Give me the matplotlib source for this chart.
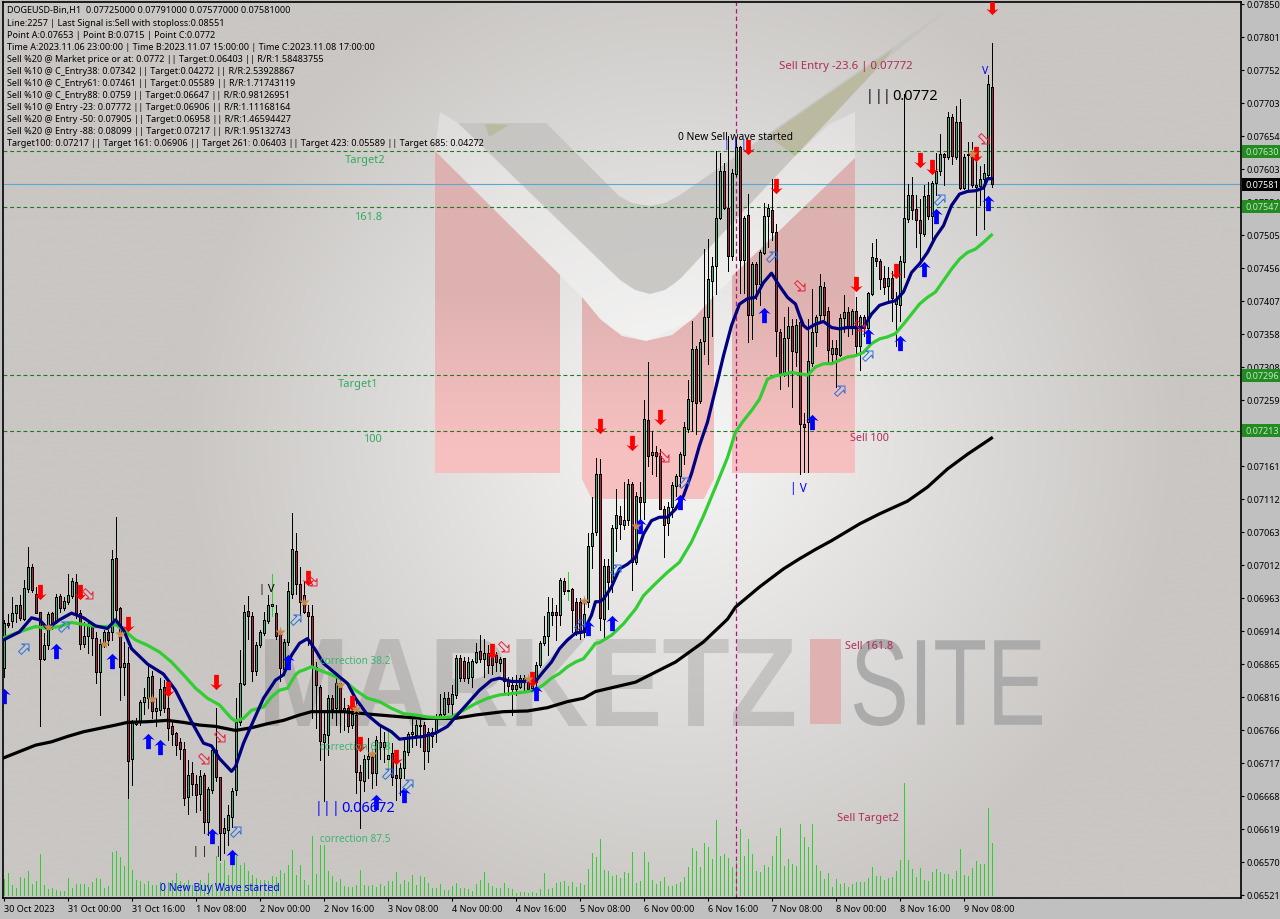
import numpy as np
import matplotlib
matplotlib.use("Agg")
import matplotlib.pyplot as plt
from matplotlib.patches import Polygon, Rectangle, PathPatch
from matplotlib.path import Path
from matplotlib.textpath import TextPath
from matplotlib.font_manager import FontProperties
from matplotlib.transforms import Affine2D

plt.rcParams['font.family'] = ['Noto Sans', 'DejaVu Sans']

# candles, prices in points (1 point = 0.00001), one bar per hour
bull = ("GRGGRGGRRR" "GGRGRGGGRR" "GGRRGGRGRR" "GRGGGGGRGG" "RRRRRRGRRG"
        "RGGRRGGGGG" "GRRGGGGGRR" "GGGRRRRRRR" "GGRGRGRGRR" "GGRGRGGRRG"
        "GGGGGRGGGG" "GRGGRRGGGR" "GRRRGRRRGG" "GRGGGGGRRG" "RGRRRGGGGR"
        "GRGGRGGRGR" "GRGRRRGGGG" "GGGRGGGGGG" "RRGGRGRGRG" "GGRRRGGRGR"
        "RGGGGRRGRG" "GRGRGRGGRR" "RGRGGGGRRR" "GRGGGRGRGR" "GGRGGGGR")
body_hi = [6926,6926,6941,6953,6953,6978,7010,7010,6970,6942,
           6894,6939,6941,6965,6967,6959,6968,6989,6988,6941,
           6907,6923,6921,6904,6895,6913,6913,7021,7023,6948,
           6866,6866,6779,6778,6809,6816,6846,6847,6799,6828,
           6831,6800,6772,6762,6748,6739,6700,6702,6686,6698,
           6699,6678,6737,6737,6696,6620,6640,6675,6779,6836,
           6943,6944,6936,6894,6913,6930,6953,6954,6941,6911,
           6898,6974,7037,7033,6985,6968,6943,6936,6861,6831,
           6760,6814,6814,6836,6836,6799,6799,6790,6789,6704,
           6724,6728,6727,6752,6749,6749,6729,6732,6699,6710,
           6736,6761,6764,6774,6774,6774,6764,6763,6786,6791,
           6814,6814,6821,6874,6874,6869,6868,6869,6883,6884,
           6882,6882,6878,6878,6873,6874,6841,6834,6834,6844,
           6844,6841,6838,6863,6897,6907,6942,6942,6942,6990,
           6989,6975,6977,6958,6958,6940,7041,7060,7149,7149,
           7012,7012,7068,7088,7086,7080,7134,7134,7116,7114,
           7231,7229,7181,7182,7175,7097,7100,7132,7145,7178,
           7218,7260,7335,7335,7345,7382,7439,7458,7530,7601,
           7601,7545,7598,7636,7636,7531,7535,7462,7462,7479,
           7533,7545,7542,7510,7361,7352,7369,7369,7371,7375,
           7223,7317,7361,7382,7429,7427,7392,7336,7336,7381,
           7390,7390,7391,7391,7382,7382,7418,7472,7470,7466,
           7441,7441,7441,7408,7466,7530,7564,7564,7544,7527,
           7563,7565,7582,7601,7626,7626,7681,7681,7673,7673,
           7622,7626,7626,7579,7588,7598,7730,7725]
body_lo = [6859,6924,6929,6941,6933,6932,6977,6975,6941,6872,
           6873,6894,6922,6928,6949,6949,6958,6967,6941,6895,
           6895,6907,6904,6853,6853,6896,6901,6913,6945,6860,
           6861,6720,6723,6776,6778,6809,6815,6795,6795,6796,
           6799,6770,6761,6744,6738,6665,6666,6686,6670,6671,
           6630,6630,6677,6696,6613,6613,6617,6637,6677,6779,
           6835,6936,6854,6855,6893,6911,6929,6952,6907,6859,
           6858,6898,6970,6985,6958,6943,6936,6861,6834,6750,
           6749,6759,6798,6800,6796,6796,6773,6774,6704,6692,
           6690,6723,6702,6702,6742,6742,6724,6697,6695,6695,
           6710,6734,6760,6759,6773,6736,6736,6757,6764,6788,
           6791,6806,6806,6819,6844,6844,6844,6845,6868,6873,
           6873,6863,6863,6868,6867,6840,6833,6828,6828,6831,
           6841,6828,6829,6838,6863,6897,6907,6938,6938,6938,
           6974,6974,6945,6913,6911,6913,6958,7041,7062,6933,
           6932,6987,6987,7068,7074,7073,7080,7017,7017,7106,
           7106,7175,7177,7175,7097,7073,7075,7100,7131,7145,
           7177,7216,7258,7255,7258,7347,7382,7437,7459,7531,
           7545,7473,7473,7596,7467,7467,7386,7386,7432,7432,
           7478,7533,7510,7362,7299,7299,7351,7332,7331,7223,
           7218,7226,7314,7361,7385,7385,7333,7328,7328,7326,
           7381,7367,7367,7340,7339,7367,7367,7417,7466,7439,
           7427,7429,7411,7402,7401,7464,7529,7543,7527,7508,
           7507,7533,7534,7582,7601,7621,7621,7623,7622,7575,
           7575,7624,7579,7577,7578,7588,7594,7581]
wick_hi = [6931,6940,6965,6953,6968,6990,7040,7014,6980,6943,
           6911,6943,6943,6970,6970,6965,7000,6993,7000,6945,
           6928,6926,6923,6913,6903,6916,6916,7035,7085,6950,
           6898,6891,6781,6784,6811,6829,6866,6854,6814,6844,
           6841,6834,6779,6764,6754,6749,6722,6719,6699,6707,
           6702,6682,6739,6799,6697,6635,6655,6680,6814,6886,
           6953,6967,6943,6898,6916,6943,6968,7000,6953,6916,
           6903,6988,7090,7060,7010,6988,6953,6953,6868,6834,
           6794,6819,6819,6844,6844,6814,6804,6794,6814,6714,
           6729,6754,6739,6757,6774,6764,6769,6747,6719,6717,
           6754,6764,6784,6781,6784,6779,6769,6769,6791,6821,
           6824,6824,6834,6878,6878,6876,6876,6873,6896,6908,
           6903,6893,6893,6883,6876,6874,6846,6846,6849,6849,
           6849,6846,6846,6868,6899,6936,6965,6963,6953,6993,
           6993,7003,6978,6963,6963,6960,7060,7114,7173,7171,
           7022,7022,7072,7126,7101,7136,7141,7136,7121,7136,
           7259,7315,7213,7191,7186,7101,7106,7136,7149,7181,
           7226,7288,7377,7340,7350,7484,7499,7472,7631,7628,
           7613,7653,7603,7648,7638,7534,7566,7464,7464,7482,
           7553,7551,7588,7521,7365,7382,7397,7380,7380,7377,
           7240,7380,7425,7385,7447,7435,7397,7348,7348,7387,
           7415,7397,7395,7412,7385,7385,7420,7493,7499,7469,
           7459,7457,7452,7420,7474,7715,7581,7591,7564,7559,
           7579,7584,7586,7628,7656,7628,7688,7686,7698,7708,
           7626,7643,7643,7623,7608,7611,7743,7791]
wick_lo = [6846,6920,6921,6928,6931,6931,6973,6973,6941,6772,
           6871,6888,6917,6926,6943,6945,6955,6963,6933,6888,
           6891,6881,6878,6836,6789,6891,6893,6901,6926,6811,
           6819,6665,6685,6774,6774,6791,6799,6784,6772,6789,
           6794,6752,6744,6729,6724,6655,6642,6670,6645,6647,
           6613,6610,6672,6690,6573,6583,6595,6622,6670,6774,
           6834,6903,6839,6849,6891,6908,6926,6936,6903,6839,
           6849,6893,6963,6970,6938,6941,6893,6784,6769,6722,
           6660,6729,6784,6774,6764,6767,6764,6769,6672,6620,
           6675,6695,6680,6685,6724,6719,6709,6685,6662,6670,
           6695,6729,6742,6744,6742,6709,6719,6742,6749,6784,
           6786,6794,6791,6814,6839,6839,6836,6831,6866,6868,
           6846,6851,6850,6854,6854,6821,6819,6789,6819,6829,
           6826,6826,6826,6834,6861,6893,6879,6923,6901,6923,
           6970,6960,6913,6908,6903,6905,6950,7009,7057,6916,
           6902,6947,6972,7034,7052,7067,7072,6975,7014,7077,
           7082,7161,7149,7146,7096,7024,7057,7084,7116,7129,
           7163,7211,7213,7208,7255,7328,7313,7355,7417,7529,
           7544,7452,7467,7593,7419,7419,7345,7350,7409,7400,
           7477,7487,7497,7325,7275,7295,7280,7248,7310,7149,
           7151,7151,7310,7340,7377,7380,7313,7313,7278,7325,
           7360,7355,7357,7328,7303,7355,7365,7415,7459,7425,
           7417,7406,7377,7340,7377,7442,7524,7529,7487,7467,
           7504,7529,7492,7564,7594,7579,7618,7611,7618,7573,
           7574,7571,7576,7505,7550,7514,7591,7577]
green_wicks = [67, 96, 141]

# tick volume
volume = [16,22,10,7,18,17,24,11,14,41, 10,6,7,5,4,4,17,7,11,11,
          11,8,13,17,16,7,9,43,44,38, 29,98,25,15,14,11,14,10,10,13,
          11,13,15,22,14,12,15,10,9,15, 12,22,11,39,32,35,20,39,39,30,
          32,24,20,17,15,15,14,19,18,25, 22,30,45,20,30,15,10,59,21,50,
          50,24,19,13,16,9,8,8,10,25, 10,9,10,8,11,9,14,14,23,11,
          15,13,20,10,19,18,12,7,7,11, 5,5,9,12,7,7,6,4,11,15,
          23,12,9,7,7,12,7,6,2,3, 3,2,3,2,6,22,6,7,12,13,
          14,9,13,8,12,10,26,42,38,56,
          25,24,19,20,17,23,22,43,12,14, 43,33,15,11,14,18,9,9,11,13,
          18,28,47,44,28,52,48,36,75,39, 41,37,28,33,66,39,56,41,24,23,
          30,28,39,59,67,29,36,31,29,71, 58,48,71,30,24,16,22,8,16,11,
          12,8,11,13,13,13,17,28,19,19, 15,17,18,24,35,112,35,26,18,27,
          15,14,23,26,23,21,21,16,24,46, 20,19,27,34,31,31,87,52]

# moving averages, read at these bars
fast_bar = [0,4,7,9,11,14,17,20,23,26,28,30,32,36,40,43,47,50,52,54,57,58,60,62,65,68,70,72,74,
            76,78,80,83,86,88,91,94,97,99,102,105,108,111,113,116,119,122,124,127,130,133,135,137,139,141,143,145,147,148,149,
            150,152,154,156,158,160,162,164,166,168,170,172,174,176,178,180,182,184,186,188,190,192,194,196,197,198,199,200,201,
            203,205,207,209,211,213,215,217,219,221,223,225,227,229,231,233,235,237,239,241,243,245,246,247]
fast_ma = [6901,6913,6934,6931,6918,6931,6941,6934,6922,6918,6931,6916,6888,6865,6850,6826,6779,6747,6743,6724,6705,6712,6747,6774,6814,6841,6849,6878,6896,
           6903,6886,6866,6851,6836,6814,6789,6774,6764,6753,6755,6757,6762,6772,6786,6806,6826,6841,6844,6839,6839,6839,6854,6868,6888,6901,6911,6913,6938,6958,6958,
           6962,6980,7007,7014,7024,7059,7079,7084,7084,7096,7116,7149,7191,7226,7275,7325,7370,7402,7410,7412,7434,7448,7429,7412,7407,7402,7385,7370,7365,
           7372,7376,7367,7365,7367,7367,7367,7387,7400,7404,7407,7420,7449,7462,7479,7502,7519,7549,7566,7570,7571,7575,7589,7589]
mid_bar = [0,3,6,8,11,14,17,20,23,26,28,30,33,36,39,42,45,48,51,54,57,58,60,62,65,67,69,71,73,74,
           75,77,79,82,85,88,91,94,97,100,103,106,109,112,115,118,121,124,127,130,133,135,137,139,141,143,145,147,148,149,
           152,155,158,160,163,166,169,172,175,178,181,183,185,187,189,191,193,195,197,199,201,
           203,205,207,209,211,213,215,217,219,221,223,225,227,229,231,233,235,237,239,241,243,245,247]
mid_ma = [6904,6911,6917,6921,6918,6921,6927,6924,6921,6921,6924,6916,6901,6893,6883,6868,6849,6829,6814,6804,6784,6780,6784,6796,6801,6816,6826,6829,6849,6854,
          6856,6861,6856,6849,6841,6826,6814,6809,6799,6791,6789,6786,6785,6786,6796,6806,6814,6819,6821,6823,6826,6834,6844,6851,6861,6868,6873,6888,6896,6897,
          6908,6925,6947,6967,6985,7002,7017,7047,7086,7129,7173,7211,7228,7243,7260,7290,7295,7297,7300,7298,7296,
          7308,7313,7313,7318,7323,7325,7330,7343,7350,7353,7358,7372,7387,7402,7412,7420,7437,7454,7469,7479,7484,7494,7505]
slow_bar = [0,8,12,16,20,24,28,31,36,41,45,49,53,58,62,66,70,74,77,85,92,100,105,113,118,125,131,136,141,145,148,
            158,168,175,181,183,189,195,199,203,207,214,219,226,231,236,241,247]
slow_ma = [6725,6744,6749,6757,6764,6769,6774,6778,6779,6781,6778,6774,6772,6766,6770,6776,6781,6789,6794,6794,6790,6786,6784,6784,6789,6794,6795,6800,6809,6814,6824,
           6838,6868,6898,6932,6950,6980,7007,7022,7036,7049,7074,7089,7108,7129,7156,7178,7202]

# signal marks: bar and price in points
red_bar = [9,19,31,41,53,76,87,89,98,122,132,149,157,164,186,193,213,223,229,232,243,247]
red_px = [6972,6972,6925,6828,6838,6993,6807,6746,6726,6884,6843,7220,7195,7233,7636,7578,7432,7451,7617,7606,7626,7845]
blue_bar = [0,13,27,36,39,52,57,71,93,100,133,146,152,159,169,190,202,216,224,230,233,246]
blue_px = [6817,6884,6870,6750,6741,6609,6577,6868,6659,6670,6822,6919,6926,7071,7107,7386,7226,7354,7344,7454,7533,7553]
hollow_up_bar = [5,15,58,73,96,101,144,153,170,192,209,216,234]
hollow_up_px = [6889,6922,6616,6932,6702,6686,6925,7007,7137,7474,7274,7326,7559]
hollow_dn_bar = [21,50,54,77,125,165,199,214,245]
hollow_dn_px = [6969,6723,6756,6989,6890,7174,7429,7369,7648]
star_bar = [11,25,29,37,69,75,84,88,92,131,145,158,242]
star_px = [6920,6895,6910,6813,6913,6958,6834,6798,6731,6843,6959,7071,7626]

info_lines = ["DOGEUSD-Bin,H1  0.07725000 0.07791000 0.07577000 0.07581000",
              "Line:2257 | Last Signal is:Sell with stoploss:0.08551",
              "Point A:0.07653 | Point B:0.0715 | Point C:0.0772",
              "Time A:2023.11.06 23:00:00 | Time B:2023.11.07 15:00:00 | Time C:2023.11.08 17:00:00",
              "Sell %20 @ Market price or at: 0.0772 || Target:0.06403 || R/R:1.58483755",
              "Sell %10 @ C_Entry38: 0.07342 || Target:0.04272 || R/R:2.53928867",
              "Sell %10 @ C_Entry61: 0.07461 || Target:0.05589 || R/R:1.71743119",
              "Sell %10 @ C_Entry88: 0.0759 || Target:0.06647 || R/R:0.98126951",
              "Sell %10 @ Entry -23: 0.07772 || Target:0.06906 || R/R:1.11168164",
              "Sell %20 @ Entry -50: 0.07905 || Target:0.06958 || R/R:1.46594427",
              "Sell %20 @ Entry -88: 0.08099 || Target:0.07217 || R/R:1.95132743",
              "Target100: 0.07217 || Target 161: 0.06906 || Target 261: 0.06403 || Target 423: 0.05589 || Target 685: 0.04272"]

y_ticks = ["0.07850","0.07801","0.07752","0.07703","0.07654","0.07603","0.07554","0.07505","0.07456","0.07407",
           "0.07358","0.07308","0.07259","0.07210","0.07161","0.07112","0.07063","0.07012","0.06963","0.06914",
           "0.06865","0.06816","0.06766","0.06717","0.06668","0.06619","0.06570","0.06521"]
x_ticks = ["30 Oct 2023","31 Oct 00:00","31 Oct 16:00","1 Nov 08:00","2 Nov 00:00","2 Nov 16:00","3 Nov 08:00","4 Nov 00:00",
           "4 Nov 16:00","5 Nov 08:00","6 Nov 00:00","6 Nov 16:00","7 Nov 08:00","8 Nov 00:00","8 Nov 16:00","9 Nov 08:00"]
level_prices = [0.07630, 0.07547, 0.07296, 0.07213]
last_price = 0.07581
signal_bar = 183

W, H = 1280, 920
fig = plt.figure(figsize=(W / 100, H / 100), dpi=100, facecolor='#c0c0c0')

# ---- watermark layer, in screen pixels
bg = fig.add_axes([0, 0, 1, 1], zorder=0)
bg.set_xlim(0, W)
bg.set_ylim(H, 0)
bg.axis('off')

xx, yy = np.meshgrid(np.linspace(3, 1240, 310), np.linspace(3, 899, 225))
d = np.clip(np.sqrt(((xx - 680) / 500) ** 2 + ((yy - 440) / 500) ** 2), 0, 1)
c0 = np.array([247, 247, 247]) / 255
c1 = np.array([201, 198, 195]) / 255
grad = c0 + (c1 - c0) * d[..., None]
bg.imshow(grad, extent=(3, 1240, 899, 3), aspect='auto', zorder=0, interpolation='bilinear')

bg.add_patch(Polygon([(435, 152), (440, 113), (458, 124), (633, 287), (650, 295), (673, 287), (795, 157), (830, 125), (855, 113),
                      (855, 159), (714, 297), (690, 322), (646, 342), (610, 330), (582, 298)],
                     fc='white', ec='none', alpha=0.3, zorder=1))
bg.add_patch(Polygon([(458, 124), (546, 124), (619, 197), (632, 204), (650, 207), (665, 204), (680, 196), (952, 7),
                      (883, 63), (795, 157), (680, 280), (665, 291), (650, 295), (635, 291), (620, 281)],
                     fc='#c4c3c0', ec='none', alpha=0.85, zorder=2))
bg.add_patch(Polygon([(768, 137), (893, 50), (883, 63), (795, 157)], fc='#bab89d', ec='none', alpha=0.9, zorder=3))
bg.add_patch(Polygon([(485, 125), (509, 126), (489, 138)], fc='#bab89d', ec='none', alpha=0.9, zorder=3))


def pink(points):
    # pink part of the logo, greyer at the top
    g = np.linspace(0, 1, 100)[:, None]
    top = np.array([222, 177, 177]) / 255
    low = np.array([247, 192, 192]) / 255
    t = np.clip((g - 0.4) / 0.45, 0, 1)
    rgb = (top + (low - top) * t)[:, None, :]
    im = bg.imshow(rgb, extent=(0, W, 500, 150), aspect='auto', zorder=4)
    poly = Polygon(points, transform=bg.transData, fc='none', ec='none')
    bg.add_patch(poly)
    im.set_clip_path(poly)


pink([(435, 152), (560, 276), (560, 474), (435, 474)])
pink([(582, 298), (600, 320), (622, 337), (646, 342), (672, 336), (695, 318), (714, 297), (714, 480), (647, 612), (582, 480)])
pink([(732, 277), (855, 159), (855, 474), (732, 474)])
bg.set_xlim(0, W)
bg.set_ylim(H, 0)
bg.add_patch(Rectangle((810, 640), 31, 85, fc='#dfb2b2', ec='none', zorder=4))


def logo_text(s, family, weight, x0, x1, y0, y1, color, alpha):
    tp = TextPath((0, 0), s, size=100, prop=FontProperties(family=family, weight=weight))
    b = tp.get_extents()
    tr = Affine2D().translate(-b.x0, -b.y0).scale((x1 - x0) / b.width, -(y1 - y0) / b.height).translate(x0, y1)
    bg.add_patch(PathPatch(tr.transform_path(tp), fc=color, ec='none', alpha=alpha, zorder=5))


logo_text("MARKETZ", "Liberation Sans", "bold", 265, 794, 640, 727, 'black', 0.12)
logo_text("SITE", "Liberation Sans", "normal", 854, 1042, 640, 727, '#ababab', 1)

# ---- chart layer
ax = fig.add_axes([3 / W, 1 - 899 / H, (1240.5 - 3) / W, (899 - 3) / H], zorder=2)
ax.patch.set_alpha(0)
ax.set_xlim(-0.125, 309.25)
ax.set_ylim(0.07857 - 899 * 1.4916e-5, 0.07857 - 3 * 1.4916e-5)
for s in ax.spines.values():
    s.set_linewidth(1.2)
    s.set_color('black')

bars = np.arange(len(body_hi))
pt = 1e-5
axv = ax.twinx()
axv.set_ylim(-3, 893)
axv.axis('off')
axv.set_zorder(1)
axv.vlines(bars, 0, volume, color='#32cd32', lw=0.7, antialiased=False)
ax.set_zorder(2)

for p in level_prices:
    ax.axhline(p, color='#1d7a1d', lw=0.8, dashes=(3.5, 2.5), zorder=1)
ax.axhline(last_price, color='#5ca8cc', lw=0.8, zorder=1)
ax.axvline(signal_bar, color='#b5127f', lw=0.9, dashes=(3.5, 2.5), zorder=1)

up = np.array([c == 'G' for c in bull])
wick_col = ['#32cd32' if i in green_wicks else 'black' for i in bars]
ax.vlines(bars, np.array(wick_lo) * pt, np.array(wick_hi) * pt, colors=wick_col, lw=0.7, antialiased=False, zorder=3)
ax.bar(bars, (np.array(body_hi) - np.array(body_lo)) * pt, bottom=np.array(body_lo) * pt, width=0.5,
       color=['#3cb371' if u else '#b22240' for u in up], edgecolor='black', linewidth=0.7, antialiased=False, zorder=4)

ax.plot(slow_bar, np.array(slow_ma) * pt, color='black', lw=2.3, zorder=5)
ax.plot(mid_bar, np.array(mid_ma) * pt, color='#32cd32', lw=2.3, zorder=6)
ax.plot(fast_bar, np.array(fast_ma) * pt, color='#000080', lw=2.3, zorder=7)

arrow_up = Path([(0, 8), (6.5, 1.5), (2.5, 3), (2.5, -8), (-2.5, -8), (-2.5, 3), (-6.5, 1.5), (0, 8)], closed=True)
arrow_dn = arrow_up.transformed(Affine2D().scale(1, -1))
hollow_up = arrow_up.transformed(Affine2D().rotate_deg(-45))
hollow_dn = arrow_up.transformed(Affine2D().rotate_deg(-135))
ax.plot(red_bar, np.array(red_px) * pt, ls='none', marker=arrow_dn, ms=11, mfc='#ff0000', mec='none', zorder=8)
ax.plot(blue_bar, np.array(blue_px) * pt, ls='none', marker=arrow_up, ms=11, mfc='#0000ff', mec='none', zorder=8)
ax.plot(hollow_up_bar, np.array(hollow_up_px) * pt, ls='none', marker=hollow_up, ms=8.5, mfc='none', mec='#2a6fdb', mew=0.7, zorder=8)
ax.plot(hollow_dn_bar, np.array(hollow_dn_px) * pt, ls='none', marker=hollow_dn, ms=8.5, mfc='none', mec='#e8203c', mew=0.7, zorder=8)
ax.plot(star_bar, np.array(star_px) * pt, ls='none', marker='*', ms=8, mfc='#c68a4e', mec='none', zorder=8)

ax.set_xticks(np.arange(0, 248, 16))
ax.set_xticklabels(x_ticks, ha='left', fontsize=6.5)
ax.set_yticks([0.0785 - k * (0.0785 - 0.06521) / 27 for k in range(28)])
ax.set_yticklabels(y_ticks, fontsize=6.5)
ax.yaxis.tick_right()
ax.tick_params(axis='y', length=2.5, width=0.8, pad=1.5)
ax.tick_params(axis='x', length=2.5, width=0.8, pad=2)


def tag(price, text, fc, tc):
    y = ax.transData.transform((0, price))[1]
    fig.add_artist(Rectangle((1242 / W, (y - 6.5) / H), 38 / W, 13 / H, transform=fig.transFigure, fc=fc, ec='none', zorder=5))
    fig.text(1246 / W, y / H, text, color=tc, fontsize=6.5, va='center', ha='left', zorder=6)


for p in level_prices:
    tag(p, "%.5f" % p, '#228b22', '#c4e6c4')
tag(last_price, "%.5f" % last_price, 'black', 'white')


def label(x, y, s, color='black', size=6.5, ha='left'):
    fig.text(x / W, 1 - (y + 1) / H, s, color=color, fontsize=size, ha=ha, va='center', zorder=6)


for k, line in enumerate(info_lines):
    label(7, 10 + 12 * k, line, size=6.5)

green_txt = '#2eae5c'
red_txt = '#b22a5a'
label(345, 160, "Target2", green_txt, 8)
label(354, 216, "161.8", green_txt, 8)
label(338, 384, "Target1", green_txt, 8)
label(363, 439, "100", green_txt, 8)
label(320, 661, "correction 38.2", '#3cb371', 7.2)
label(320, 746, "correction 61.8", '#3cb371', 7.2)
label(320, 839, "correction 87.5", '#3cb371', 7.2)
label(779, 65, "Sell Entry -23.6 | 0.07772", red_txt, 8.2)
label(850, 438, "Sell 100", red_txt, 7.8)
label(845, 646, "Sell 161.8", red_txt, 7.8)
label(837, 818, "Sell Target2", red_txt, 8)
for x in [866, 874.5, 883]:
    label(x, 95, "|", 'black', 10)
label(892, 95, "0.0772", 'black', 10.5)
for x in [315, 323, 332]:
    label(x, 808, "|", '#0000ff', 10)
label(341, 808, "0.06672", '#0000ff', 10.5)
label(678, 137, "0 New Sell wave started", 'black', 7.4)
label(160, 888, "0 New Buy Wave started", '#0000ff', 7.5)
label(790, 488, "| V", '#0000ff', 8.5)
label(982, 71, "V", '#0000ff', 7.5)
label(259, 589, "| V", 'black', 8)
label(724, 143, "| | |", '#0000ff', 7.5)
label(193, 851, "| |   |", 'black', 7.5)

fig.savefig("out.png", dpi=100, facecolor=fig.get_facecolor())
